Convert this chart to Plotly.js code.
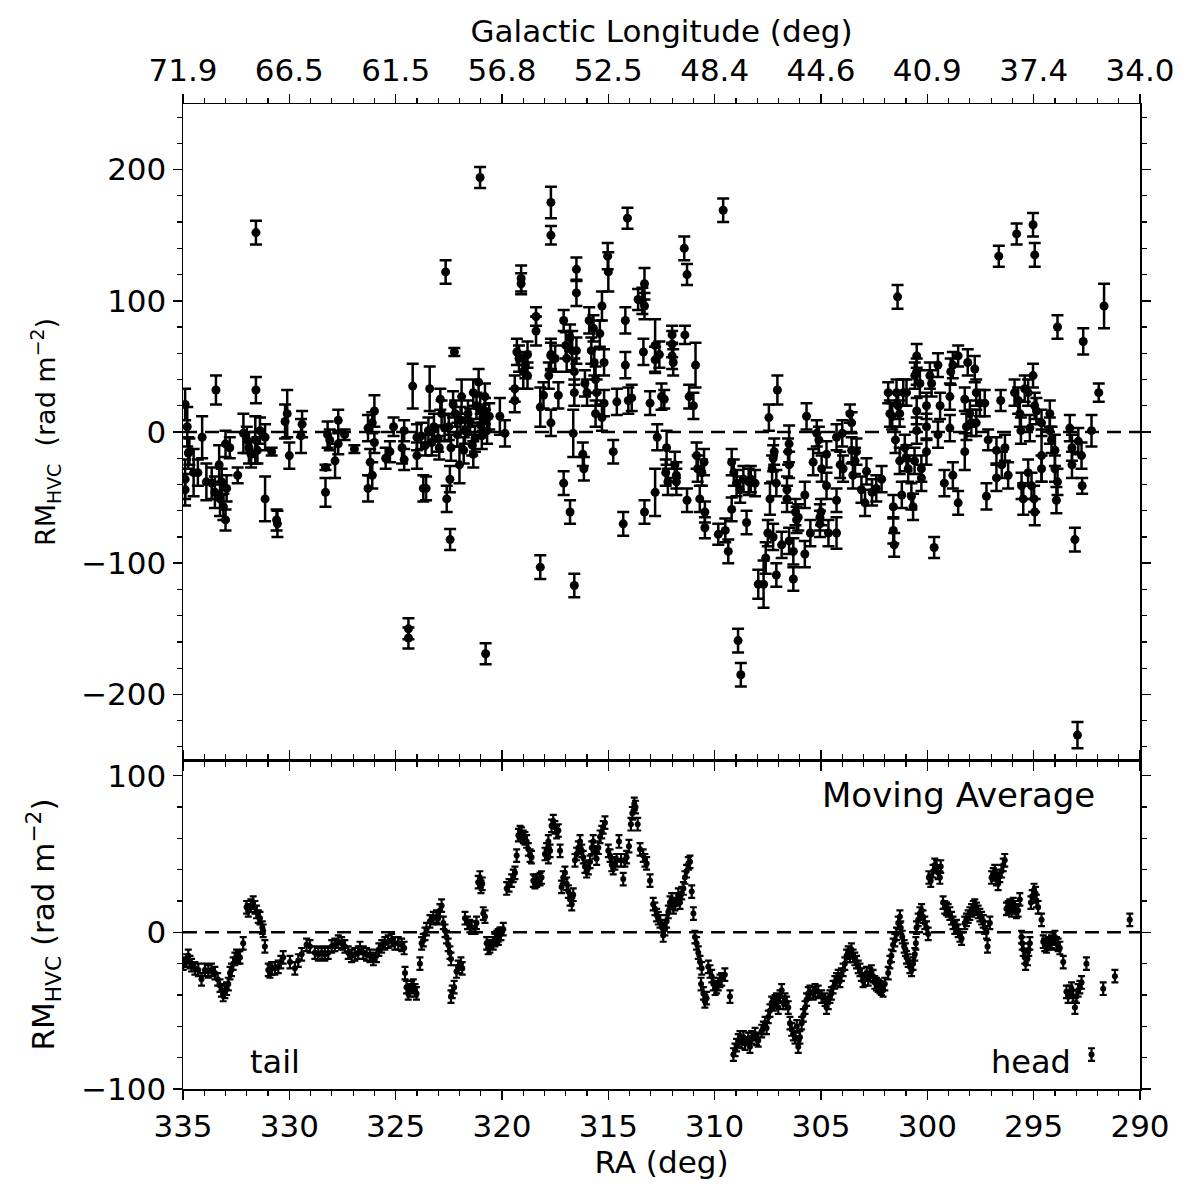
<!DOCTYPE html>
<html>
<head>
<meta charset="utf-8">
<script src="https://cdn.plot.ly/plotly-3.0.1.min.js"></script>
<style>
  html, body { margin: 0; padding: 0; background: #ffffff; }
  #chart { width: 1200px; height: 1200px; }
</style>
</head>
<body>
<div id="chart"></div>
<script>
// Individual rotation measures of the HVC sightlines (top panel)
const raTop = [
  334.9,334.8,334.75,334.7,334.9,334.9,334.5,334.3,334.1,333.9,333.45,333.65,333.5,333.3,333.26,333.18,333.1,333.0,332.95,333.0,
  332.8,332.43,332.16,332.0,331.9,331.57,331.57,331.6,331.5,331.38,331.14,331.8,331.14,330.83,330.56,330.6,330.2,330.1,330.0,329.4,
  329.45,328.3,328.3,328.2,328.1,327.7,327.85,327.7,327.4,326.94,326.3,326.2,326.1,326.3,326.0,326.0,326.1,325.47,325.27,325.1,
  324.7,324.6,324.6,324.4,324.4,324.2,324.0,324.0,323.7,
  323.4,323.57,323.46,323.2,322.9,323.0,322.84,322.6,322.44,322.65,322.24,322.5,322.4,322.45,322.2,322.0,321.9,321.74,321.35,321.35,
  321.1,321.03,321.03,320.9,320.8,320.7,320.77,321.27,321.6,320.1,319.86,319.4,319.4,319.3,319.2,319.1,319.1,319.0,318.9,318.8,
  318.8,318.4,318.4,318.2,318.2,318.05,317.8,317.7,317.7,317.7,317.7,317.7,317.5,317.35,317.1,317.1,317.0,316.96,316.8,316.8,
  316.7,316.65,316.6,316.6,316.6,316.5,316.5,316.5,316.2,316.15,316.1,316.0,315.9,315.8,315.7,315.66,315.6,315.6,315.55,315.4,
  315.3,315.3,315.2,315.03,315.0,315.2,314.77,314.6,314.3,314.2,314.2,314.1,314.06,313.9,313.6,313.4,313.3,313.3,313.35,313.3,
  313.04,312.8,312.8,312.8,312.6,312.5,312.7,
  323.8,323.6,323.3,322.95,322.7,322.3,322.1,321.95,321.8,321.5,321.2,320.95,321.0,320.6,320.8,321.4,
  312.37,312.26,312.3,312.2,312.0,312.0,312.0,311.95,311.87,311.8,311.8,311.43,311.3,311.4,311.3,311.2,311.0,310.9,310.85,310.8,
  310.7,310.5,310.46,310.46,310.6,309.83,309.6,309.5,309.36,309.2,309.1,309.2,308.9,308.77,308.97,308.8,308.65,308.5,308.4,308.3,
  308.1,307.95,307.7,307.6,307.5,307.45,307.4,307.3,307.25,307.25,307.2,307.1,307.05,307.1,306.85,306.6,306.6,306.5,306.5,306.55,
  306.5,306.3,306.3,306.2,306.15,306.07,305.76,305.76,305.68,305.5,305.37,305.2,305.1,305.05,305.05,305.0,304.97,304.74,304.74,304.65,
  304.27,304.27,304.27,304.1,304.0,303.96,303.64,303.56,303.56,303.5,303.4,303.33,303.1,302.93,302.86,302.6,302.4,302.15,301.84,301.76,
  301.65,301.6,301.6,301.56,301.5,301.4,301.45,301.37,301.3,301.2,301.13,
  301.3,300.98,301.06,300.98,300.9,300.75,300.67,300.6,300.5,300.59,300.5,300.5,300.5,300.35,300.28,300.28,300.04,300.04,300.04,299.88,
  299.8,299.68,299.5,299.5,299.4,299.2,298.94,298.94,298.9,298.8,298.8,298.55,298.55,298.24,298.24,298.1,298.16,298.0,297.93,297.77,
  297.7,297.7,297.53,297.3,297.22,297.14,296.75,296.75,296.64,296.55,296.5,296.35,296.2,295.9,295.8,295.73,295.65,295.6,295.57,295.49,
  295.42,295.26,295.26,295.18,295.1,295.03,294.95,295.03,294.95,294.98,294.95,294.87,294.63,294.63,294.63,294.24,294.24,294.16,294.0,294.0,
  293.88,293.88,293.93,293.3,293.2,293.2,293.06,292.94,292.9,292.75,292.72,292.67,292.28,291.94,291.69
];
const rmTop = [
  21,4,-16,-15,-36,-44,-31,-31,-4,-38,32,-39,-46,-25,-51,-38,-57,-67,-43,-9,
  -12,-33,-1,-6,-12,152,32,-6,-14,1,-4,-17,-51,-15,-70,-67,8,14,-18,6,
  -3,-27,-46,-2,-6,9,-22,-9,-2,-13,3,-23,-33,-43,16,-8,7,-20,-15,4,
  -12,1,-21,-150,-157,35,-4,-18,-43,
  33,-43,1,4,25,-5,14,-51,-82,122,61,4,-12,-36,14,-25,27,1,30,-17,
  38,194,17,11,27,1,-169,-5,14,12,-1,33,24,61,56,117,113,46,51,43,
  59,88,77,-103,19,28,43,58,175,150,59,7,56,28,85,-39,66,56,72,-61,
  62,-1,-117,30,46,124,106,62,-17,-28,37,30,85,62,79,53,40,14,30,75,
  96,11,53,134,122,22,-15,23,-70,85,51,163,24,26,101,100,113,96,61,-61,
  22,66,55,-46,59,27,-4,
  -3,-10,-8,-12,3,21,-2,9,-14,8,20,-3,5,12,16,-10,
  25,-12,-31,-38,74,67,58,53,-25,-33,-38,140,120,74,-52,27,20,51,-18,-28,
  -51,-23,-61,-73,-31,-78,169,-75,-91,-23,-31,-59,-159,-185,-39,-44,-36,-69,-38,-36,
  -39,-116,-116,-96,-77,11,-51,-28,-80,-20,-15,-109,32,-39,-86,-44,-51,-9,-25,-15,
  -83,-91,-112,-61,-67,-65,-48,-93,12,-77,-23,-1,-6,-70,-65,-61,-28,-17,-41,-77,
  -4,-52,-77,-25,-1,-28,14,7,-14,-33,-22,-15,-44,-54,-30,-46,-43,-36,30,14,
  12,-57,-75,-86,-6,103,30,20,-22,-48,30,
  14,30,-12,-20,-28,-49,-57,-22,58,43,46,16,1,37,-28,-35,20,4,-15,43,
  37,-88,51,-2,20,-39,27,3,46,51,-33,58,-54,25,-15,53,4,14,7,48,
  30,7,22,22,-49,-6,-14,-35,134,24,-25,-12,-33,30,151,24,14,1,-41,-51,
  33,30,-31,3,-41,158,135,43,20,-51,-61,16,-18,7,-28,14,1,-6,-28,-14,
  -38,80,-52,3,-25,-12,-82,-231,-7,-18,-41,69,1,30,96
];
const errTop = [
  12,15,12,10,15,12,18,10,16,14,11,12,12,15,13,10,10,8,10,10,
  8,6,15,10,12,9,10,18,10,10,10,10,17,3,10,8,13,18,10,10,
  13,2,11,10,8,8,13,8,4,3,10,10,10,10,12,8,8,8,8,7,
  12,8,8,8,8,17,10,10,10,
  17,9,10,10,8,10,10,10,8,9,3,10,10,10,10,14,13,10,10,10,
  10,8,10,10,10,10,8,10,10,14,10,10,9,10,10,10,8,13,10,10,
  10,7,11,9,15,10,10,10,12,7,12,10,10,10,8,9,10,10,10,9,
  15,18,9,10,10,9,10,10,9,9,10,10,10,10,10,10,10,10,10,10,
  11,10,10,10,15,10,9,10,9,10,10,8,10,10,8,10,12,10,10,9,
  9,20,10,18,10,10,10,
  10,8,10,9,10,10,9,10,10,10,10,10,9,10,10,8,
  7,13,10,10,7,10,10,10,10,10,10,9,8,7,9,9,10,17,10,10,
  10,10,8,8,10,8,9,9,9,10,10,9,9,9,10,10,10,9,10,10,
  10,11,18,12,10,10,12,10,10,10,10,9,11,10,10,10,10,14,10,10,
  10,10,9,10,10,10,10,10,10,10,10,10,10,10,10,10,10,10,10,10,
  10,9,12,10,10,10,7,8,10,10,10,10,10,10,10,10,10,10,8,10,
  10,9,10,9,10,9,10,10,10,10,10,
  10,10,10,10,10,10,10,10,9,10,10,10,10,10,10,10,10,10,10,10,
  10,8,9,10,10,10,10,10,10,10,10,8,9,9,14,10,10,10,10,10,
  10,10,10,10,10,8,10,10,8,8,10,10,10,10,8,10,10,10,10,12,
  10,10,10,10,10,9,9,9,10,10,10,10,20,10,10,10,10,10,10,12,
  10,9,10,10,10,10,9,10,10,10,6,10,12,7,17
];

// Moving average along the cloud (bottom panel)
const raAvg = [
  334.99,334.83,334.75,334.67,334.60,334.44,334.28,334.13,333.97,333.81,333.66,333.50,333.37,333.26,333.19,333.11,333.03,332.95,332.87,332.79,
  332.72,332.64,332.56,332.48,332.40,332.32,332.17,332.01,331.93,331.81,331.70,331.62,331.54,331.46,331.38,331.27,331.23,331.15,330.99,330.91,
  330.83,330.68,330.52,330.40,330.29,329.97,329.74,329.58,329.42,329.19,329.03,328.80,328.64,328.48,328.33,328.17,328.01,327.86,327.70,327.54,
  327.39,327.23,327.07,326.92,326.76,326.68,326.52,326.37,326.21,326.05,325.90,325.79,325.66,325.51,325.35,325.19,325.04,324.88,324.72,324.60,
  324.56,324.49,324.41,324.33,324.25,324.17,324.09,324.02,323.86,323.78,323.70,323.62,323.55,323.39,323.23,323.08,323.00,322.92,322.84,322.76,
  322.68,322.61,322.53,322.45,322.40,322.40,322.34,322.25,322.14,322.06,321.93,321.87,321.74,321.62,321.51,321.43,321.27,321.20,321.12,321.04,
  320.99,320.93,320.88,320.80,320.72,320.65,320.57,320.41,320.33,320.25,320.18,320.10,319.94,
  320.17,320.05,319.78,319.67,319.55,319.47,319.39,319.31,319.23,319.15,319.08,319.00,318.92,318.84,318.76,318.68,318.61,318.53,318.45,318.37,
  318.21,318.14,317.98,317.90,317.82,317.74,317.82,317.67,317.59,317.51,317.43,317.35,317.27,317.20,317.12,317.04,316.96,316.88,316.80,316.72,
  316.65,316.57,316.49,316.41,316.33,316.25,316.18,316.10,316.02,315.94,315.86,315.78,315.71,315.63,315.55,315.47,315.39,315.31,315.24,315.16,
  315.00,314.92,314.84,314.77,314.69,314.61,314.50,314.40,314.30,314.22,314.14,314.03,313.94,313.87,313.78,313.72,313.62,313.51,313.36,313.28,
  313.20,313.04,312.89,312.81,312.73,312.65,312.57,312.49,312.42,312.34,312.26,312.18,312.10,312.02,311.94,311.87,311.79,311.71,311.63,311.55,
  311.47,311.40,311.32,311.24,311.16,311.08,311.00,310.93,310.85,310.77,310.69,310.61,310.64,310.53,310.46,310.38,310.30,310.22,310.14,310.06,
  309.98,309.91,309.83,309.75,309.67,309.52,309.28,309.12,309.04,308.97,308.89,308.81,308.73,308.65,308.57,308.42,308.34,308.26,308.10,308.03,
  307.95,307.79,307.71,307.63,307.56,307.48,307.40,307.32,307.24,307.16,307.09,307.01,306.93,306.85,306.77,306.69,306.62,306.54,306.46,306.38,
  306.30,306.22,306.14,306.07,305.99,305.91,305.83,305.75,305.68,305.60,305.52,305.36,305.28,305.13,304.97,304.81,
  304.74,304.66,304.58,304.51,304.43,304.35,304.27,304.19,304.11,304.04,303.96,303.88,303.80,303.72,303.64,303.57,303.49,303.41,303.33,303.25,
  303.17,303.10,303.02,302.94,302.86,302.78,302.70,302.63,302.55,302.47,302.39,302.31,302.23,302.16,302.08,302.00,301.84,301.76,301.69,301.61,
  301.53,301.45,301.37,301.29,301.25,301.18,301.09,301.03,300.98,300.90,300.82,300.74,300.67,300.59,300.54,300.51,300.43,300.35,300.27,300.20,
  300.12,300.04,299.96,299.93,299.84,299.73,299.65,299.57,299.49,299.41,299.37,299.26,299.18,299.10,299.02,298.94,298.86,298.79,298.71,298.63,
  298.55,298.47,298.39,298.24,298.16,298.08,298.00,297.92,297.84,297.77,297.69,297.61,297.53,297.45,297.37,297.30,297.22,297.17,297.06,296.98,
  296.90,296.83,296.75,296.67,296.59,296.51,296.43,296.36,296.28,296.20,296.12,296.04,295.96,295.89,295.81,295.73,295.65,295.57,295.54,295.49,
  295.42,295.38,295.29,295.23,295.18,295.13,295.07,294.98,294.91,294.87,294.79,294.63,294.55,294.48,294.40,294.32,294.24,294.16,294.08,294.00,
  293.93,293.85,293.77,293.61,293.46,293.38,293.30,293.22,293.14,293.06,292.99,292.91,292.83,292.75,292.52,292.28,291.73,291.18,290.48
];
const rmAvg = [
  -20,-18,-15,-19,-21,-23,-24,-30,-24,-25,-24,-26,-30,-34,-37,-40,-38,-36,-33,-26,
  -24,-20,-17,-15,-16,-16,-7,16,14,17,19,16,13,10,9,3,1,-9,-24,-25,
  -23,-23,-22,-19,-16,-19,-23,-18,-14,-8,-9,-13,-14,-13,-14,-13,-9,-8,-6,-7,
  -9,-13,-15,-14,-13,-10,-13,-14,-15,-17,-15,-11,-9,-7,-6,-5,-7,-7,-8,-10,
  -26,-35,-39,-37,-35,-34,-37,-39,-20,-7,-5,-1,2,7,9,10,9,14,17,6,
  1,-3,-8,-13,-17,-41,-38,-35,-25,-22,-20,-23,9,6,4,3,3,6,32,35,
  29,31,12,10,-7,-10,-9,-7,-5,-3,-2,-1,2,
  -4,-1,28,30,33,36,38,49,62,64,63,61,60,58,53,49,48,33,32,33,
  34,35,50,53,58,52,48,68,71,67,64,65,52,29,35,38,31,26,21,18,
  24,46,50,54,58,52,48,42,39,41,45,54,58,51,47,54,61,64,67,70,
  52,49,43,41,44,46,58,46,34,46,48,55,69,76,82,80,69,53,49,46,
  44,33,18,15,11,9,7,4,-2,2,7,13,19,21,16,18,21,24,19,25,
  28,35,39,44,45,26,12,-3,-7,-13,-19,-23,-33,-39,-44,-42,-22,-25,-28,-33,
  -36,-35,-33,-31,-30,-27,-41,-78,-75,-72,-69,-67,-70,-67,-71,-68,-73,-67,-65,-68,
  -69,-63,-61,-58,-61,-54,-50,-45,-46,-44,-43,-48,-41,-37,-45,-43,-45,-48,-58,-62,
  -65,-67,-60,-73,-67,-58,-53,-48,-43,-39,-38,-39,-37,-38,-41,-43,
  -48,-45,-41,-39,-35,-32,-30,-28,-31,-27,-24,-20,-15,-13,-15,-11,-15,-17,-19,-22,
  -24,-27,-31,-30,-26,-30,-27,-25,-28,-32,-33,-34,-35,-36,-37,-33,-26,-19,-15,-8,
  -5,-1,6,10,3,-3,-9,-11,-16,-18,-22,-24,-20,-14,-7,3,8,12,14,10,
  6,3,-1,35,33,39,43,42,38,35,42,19,16,15,14,12,9,6,3,4,
  1,-2,-4,6,8,10,12,14,16,17,15,13,11,9,7,3,0,-9,6,35,
  37,39,34,31,36,39,43,46,15,16,17,14,18,16,13,14,21,-3,-7,-11,
  -16,-20,-17,-11,-7,19,23,27,25,20,16,8,-6,-8,-9,-7,-7,-6,-4,-3,
  -7,-8,-10,-19,-38,-41,-38,-36,-41,-48,-41,-37,-35,-32,-20,-78,-36,-28,8
];
const avgErr = 4;

const raTicks = [335, 330, 325, 320, 315, 310, 305, 300, 295, 290];
const glonTicks = ['71.9', '66.5', '61.5', '56.8', '52.5', '48.4', '44.6', '40.9', '37.4', '34.0'];

const FONT = 'DejaVu Sans, Liberation Sans, sans-serif';
const axisLine = { showline: true, linecolor: 'black', linewidth: 1.5, mirror: 'ticks',
                   ticks: 'outside', ticklen: 9, tickwidth: 1.5, tickcolor: 'black',
                   showgrid: false, zeroline: false };

const traces = [
  {
    type: 'scatter', mode: 'markers', xaxis: 'x2', yaxis: 'y2',
    x: raTop, y: rmTop,
    marker: { color: 'black', size: 9 },
    error_y: { type: 'data', array: errTop, visible: true, color: 'black', thickness: 2.5, width: 6 },
    hoverinfo: 'x+y'
  },
  {
    type: 'scatter', mode: 'markers', xaxis: 'x', yaxis: 'y',
    x: raAvg, y: rmAvg,
    marker: { color: 'black', size: 6 },
    error_y: { type: 'constant', value: avgErr, visible: true, color: 'black', thickness: 2.2, width: 3.5 },
    hoverinfo: 'x+y'
  }
];

const minorX = { tickmode: 'linear', tick0: 0, dtick: 1, ticks: 'outside', ticklen: 5, tickwidth: 1.2, tickcolor: 'black', showgrid: false };
const minorY = { tickmode: 'linear', tick0: 0, dtick: 20, ticks: 'outside', ticklen: 5, tickwidth: 1.2, tickcolor: 'black', showgrid: false };

const layout = {
  width: 1200, height: 1200,
  margin: { l: 183, r: 60, t: 104, b: 111 },
  paper_bgcolor: 'white', plot_bgcolor: 'white',
  showlegend: false,
  font: { family: FONT, size: 31, color: 'black' },
  xaxis: Object.assign({}, axisLine, {
    domain: [0, 1], anchor: 'y', range: [335, 290],
    tickmode: 'array', tickvals: raTicks, ticktext: raTicks.map(String),
    minor: minorX,
    title: { text: 'RA (deg)', font: { size: 31 }, standoff: 8 }
  }),
  yaxis: Object.assign({}, axisLine, {
    domain: [0, 0.334], anchor: 'x', range: [-100, 110],
    tickmode: 'array', tickvals: [-100, 0, 100],
    minor: minorY,
    title: { text: 'RM<sub>HVC</sub> (rad m<sup>\u22122</sup>)', font: { size: 31 }, standoff: 17 }
  }),
  xaxis2: Object.assign({}, axisLine, {
    domain: [0, 1], anchor: 'y2', side: 'top', range: [335, 290],
    tickmode: 'array', tickvals: raTicks, ticktext: glonTicks,
    minor: minorX,
    title: { text: 'Galactic Longitude (deg)', font: { size: 31 }, standoff: 0 }
  }),
  yaxis2: Object.assign({}, axisLine, {
    domain: [0.334, 1], anchor: 'x2', range: [-250, 250],
    tickmode: 'array', tickvals: [-200, -100, 0, 100, 200],
    minor: minorY,
    title: { text: 'RM<sub>HVC</sub>\u00a0\u00a0(rad m<sup>\u22122</sup>)', font: { size: 27 }, standoff: 17 }
  }),
  shapes: [
    { type: 'line', xref: 'x2 domain', yref: 'y2', x0: 0, x1: 1, y0: 0, y1: 0,
      line: { color: 'black', width: 2.5, dash: '14px,8px' } },
    { type: 'line', xref: 'x domain', yref: 'y', x0: 0, x1: 1, y0: 0, y1: 0,
      line: { color: 'black', width: 2.5, dash: '14px,8px' } }
  ],
  annotations: [
    { text: 'Moving Average', xref: 'x domain', yref: 'paper', x: 0.955, y: 0.2985,
      xanchor: 'right', yanchor: 'middle', showarrow: false, font: { size: 34 } },
    { text: 'tail', xref: 'x domain', yref: 'paper', x: 0.068, y: 0.0274,
      xanchor: 'left', yanchor: 'middle', showarrow: false, font: { size: 32 } },
    { text: 'head', xref: 'x domain', yref: 'paper', x: 0.930, y: 0.0274,
      xanchor: 'right', yanchor: 'middle', showarrow: false, font: { size: 32 } }
  ]
};

Plotly.newPlot('chart', traces, layout, { displayModeBar: false, staticPlot: true });
</script>
</body>
</html>
